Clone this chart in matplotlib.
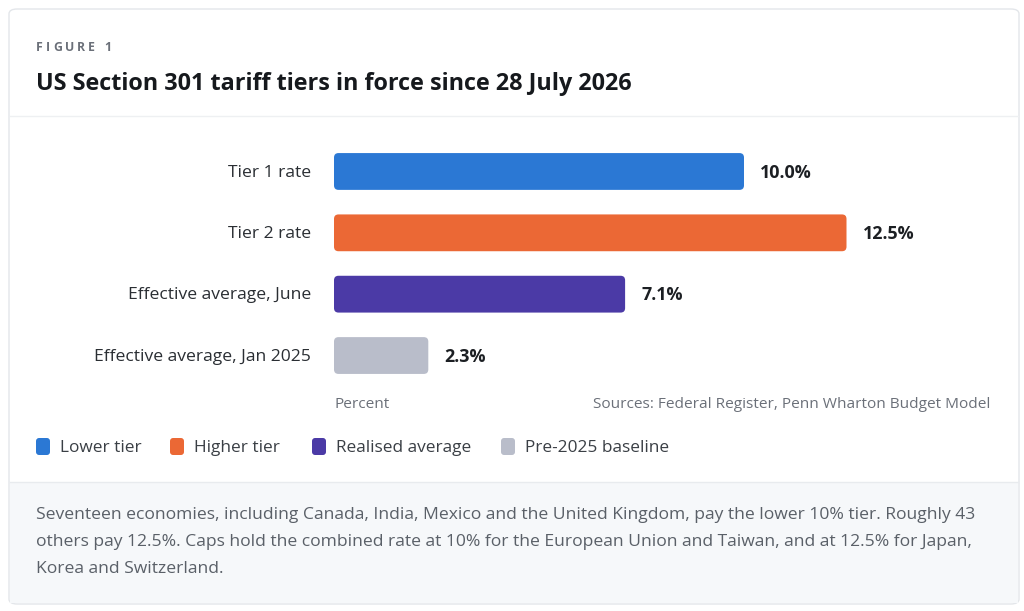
import matplotlib
matplotlib.use("Agg")
import matplotlib.pyplot as plt
from matplotlib.patches import FancyBboxPatch, Rectangle
from matplotlib.lines import Line2D

plt.rcParams['font.family'] = ['Open Sans', 'DejaVu Sans']

categories = ["Tier 1 rate", "Tier 2 rate", "Effective average, June", "Effective average, Jan 2025"]
values = [10.0, 12.5, 7.1, 2.3]
value_labels = ["10.0%", "12.5%", "7.1%", "2.3%"]
colors = ["#2B78D4", "#EB6835", "#4B3AA6", "#B9BDCA"]
legend_labels = ["Lower tier", "Higher tier", "Realised average", "Pre-2025 baseline"]
title = "US Section 301 tariff tiers in force since 28 July 2026"
kicker = "FIGURE 1"
x_label = "Percent"
source = "Sources: Federal Register, Penn Wharton Budget Model"
footnote = ("Seventeen economies, including Canada, India, Mexico and the United Kingdom, pay the lower 10% tier. Roughly 43\n"
            "others pay 12.5%. Caps hold the combined rate at 10% for the European Union and Taiwan, and at 12.5% for Japan,\n"
            "Korea and Switzerland.")

W, H = 1024, 611
fig = plt.figure(figsize=(W / 100, H / 100), dpi=100)
fig.patch.set_facecolor("#FFFFFF")

def fx(px):
    return px / W

def fy(py):
    return 1 - py / H

# Card background
card = FancyBboxPatch((fx(9), fy(604)), fx(1010), (595) / H,
                      boxstyle="round,pad=0,rounding_size=0.008",
                      transform=fig.transFigure, facecolor="#FFFFFF",
                      edgecolor="#E3E6EA", linewidth=1.0, zorder=0)
fig.add_artist(card)
# Footer band
footer = Rectangle((fx(10), fy(603)), fx(1008), (603 - 482) / H,
                   transform=fig.transFigure, facecolor="#F6F8FA",
                   edgecolor="none", zorder=0.5)
fig.add_artist(footer)
fig.add_artist(Line2D([fx(10), fx(1018)], [fy(482), fy(482)], transform=fig.transFigure,
                      color="#E8EBEE", linewidth=1.0, zorder=0.6))
fig.add_artist(Line2D([fx(10), fx(1018)], [fy(116), fy(116)], transform=fig.transFigure,
                      color="#EEF0F2", linewidth=1.0, zorder=0.6))

# Kicker with letter spacing
renderer = fig.canvas.get_renderer()
xpos = 36
for ch in kicker:
    t = fig.text(fx(xpos), fy(51), ch, fontsize=8.8, fontweight="bold", color="#6B7079",
                 ha="left", va="baseline")
    w = t.get_window_extent(renderer=renderer).width
    if ch == " ":
        w = 3
    xpos += w + 3.0

fig.text(fx(36), fy(90), title, fontsize=16.8, fontweight="bold", color="#16191D",
         ha="left", va="baseline")

# Axes
ax_left, ax_right = 334, 990
ax_top, ax_bottom = 140.8, 386.2
ax = fig.add_axes([fx(ax_left), fy(ax_bottom), (ax_right - ax_left) / W, (ax_bottom - ax_top) / H])
ax.set_xlim(0, 16)
ax.set_ylim(3.5, -0.5)
ax.axis("off")
ax.patch.set_alpha(0)

xunit_px = (ax_right - ax_left) / 16
yunit_px = (ax_bottom - ax_top) / 4
bar_h = 0.6
r_px = 4.5
for i, (v, c) in enumerate(zip(values, colors)):
    p = FancyBboxPatch((0, i - bar_h / 2), v, bar_h,
                       boxstyle=f"round,pad=0,rounding_size={r_px / xunit_px}",
                       mutation_aspect=xunit_px / yunit_px,
                       facecolor=c, edgecolor="none", zorder=2)
    ax.add_patch(p)
    ax.text(v + 16 / xunit_px, i + 0.02, value_labels[i], fontsize=12.9, fontweight="bold",
            color="#1C1F23", ha="left", va="center")
    ax.text(-23 / xunit_px, i + 0.02, categories[i], fontsize=12.6, color="#2A2E33",
            ha="right", va="center", clip_on=False)

fig.text(fx(334), fy(408), x_label, fontsize=11.1, color="#6B7079", ha="left", va="baseline")
fig.text(fx(990), fy(408), source, fontsize=11.1, color="#6B7079", ha="right", va="baseline")

# Legend
leg_x = [36, 170, 312, 501]
for lx, lab, c in zip(leg_x, legend_labels, colors):
    sq = FancyBboxPatch((fx(lx), fy(455)), fx(14), 17 / H,
                        boxstyle="round,pad=0,rounding_size=0.003",
                        transform=fig.transFigure, facecolor=c, edgecolor="none",
                        mutation_aspect=W / H)
    fig.add_artist(sq)
    fig.text(fx(lx + 24), fy(448), lab, fontsize=12.45, color="#3A3F45", ha="left", va="center")

fig.text(fx(36), fy(507), footnote, fontsize=12.6, color="#5A6068", ha="left", va="top",
         linespacing=1.93)

fig.savefig("out.png", dpi=100, facecolor=fig.get_facecolor())
